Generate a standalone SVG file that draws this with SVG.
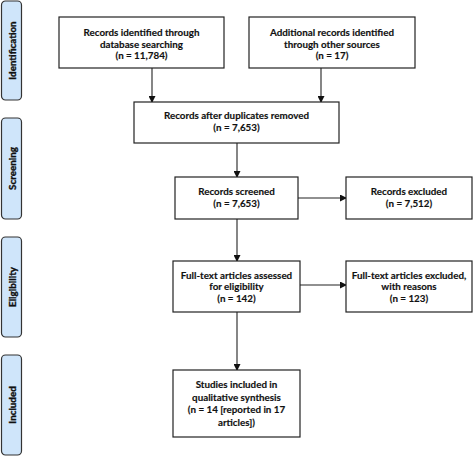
<svg xmlns="http://www.w3.org/2000/svg" width="473" height="456" viewBox="0 0 473 456">
<defs>
<style>
.box{fill:#fff;stroke:#222;stroke-width:1.2}
.lab{fill:#cfe5fa;stroke:#333;stroke-width:1.2}
.t{font-family:Lato,"Liberation Sans",sans-serif;font-weight:bold;font-size:9.8px;fill:#111;text-anchor:middle;stroke:#111;stroke-width:0.15}
.lt{font-family:Lato,"Liberation Sans",sans-serif;font-weight:bold;font-size:9.8px;fill:#111;text-anchor:middle;stroke:#111;stroke-width:0.35}
.c{stroke:#222;stroke-width:1.1;fill:none;marker-end:url(#ah)}
</style>
<marker id="ah" markerWidth="7" markerHeight="7" refX="6" refY="3.5" orient="auto" markerUnits="userSpaceOnUse">
<path d="M0,0 L7,3.5 L0,7 Z" fill="#111"/>
</marker>
</defs>
<rect width="473" height="456" fill="#fff"/>
<g id="stage-identification"><rect class="lab" x="1.5" y="1" width="20" height="99" rx="4"/><text class="lt" transform="translate(15.5,50.5) rotate(-90)">Identification</text></g>
<g id="stage-screening"><rect class="lab" x="1.5" y="118" width="20" height="101" rx="4"/><text class="lt" transform="translate(15.5,168.5) rotate(-90)">Screening</text></g>
<g id="stage-eligibility"><rect class="lab" x="1.5" y="237" width="20" height="100" rx="4"/><text class="lt" transform="translate(15.5,287) rotate(-90)">Eligibility</text></g>
<g id="stage-included"><rect class="lab" x="1.5" y="355" width="20" height="100" rx="4"/><text class="lt" transform="translate(15.5,405) rotate(-90)">Included</text></g>
<g id="connectors">
<path class="c" d="M152,68 V102"/>
<path class="c" d="M321,68 V102"/>
<path class="c" d="M237,143 V177"/>
<path class="c" d="M237,219 V261"/>
<path class="c" d="M237,312 V370"/>
<path class="c" d="M298,198 H346"/>
<path class="c" d="M300,285 H346"/>
</g>
<g id="db-records"><rect class="box" x="59" y="17" width="165" height="51"/><text class="t" x="141.5" y="36">Records identified through</text><text class="t" x="141.5" y="47.5">database searching</text><text class="t" x="141.5" y="59">(n = 11,784)</text></g>
<g id="other-records"><rect class="box" x="249" y="17" width="166" height="51"/><text class="t" x="332" y="36">Additional records identified</text><text class="t" x="332" y="47.5">through other sources</text><text class="t" x="332" y="59">(n = 17)</text></g>
<g id="dedup"><rect class="box" x="134" y="102" width="205" height="41"/><text class="t" x="236.5" y="118.5">Records after duplicates removed</text><text class="t" x="236.5" y="131">(n = 7,653)</text></g>
<g id="screened"><rect class="box" x="175" y="177" width="123" height="42"/><text class="t" x="236.5" y="195">Records screened</text><text class="t" x="236.5" y="207">(n = 7,653)</text></g>
<g id="excluded"><rect class="box" x="346" y="177" width="126" height="42"/><text class="t" x="409" y="195">Records excluded</text><text class="t" x="409" y="207">(n = 7,512)</text></g>
<g id="fulltext"><rect class="box" x="173" y="261" width="127" height="51"/><text class="t" x="236.5" y="278.5">Full-text articles assessed</text><text class="t" x="236.5" y="290">for eligibility</text><text class="t" x="236.5" y="302">(n = 142)</text></g>
<g id="fulltext-excluded"><rect class="box" x="346" y="261" width="126" height="51"/><text class="t" x="409" y="278.5">Full-text articles excluded,</text><text class="t" x="409" y="290">with reasons</text><text class="t" x="409" y="302">(n = 123)</text></g>
<g id="included"><rect class="box" x="173" y="370" width="127" height="67"/><text class="t" x="236.5" y="388">Studies included in</text><text class="t" x="236.5" y="400.5">qualitative synthesis</text><text class="t" x="236.5" y="413">(n = 14 [reported in 17</text><text class="t" x="236.5" y="426">articles])</text></g>
</svg>
